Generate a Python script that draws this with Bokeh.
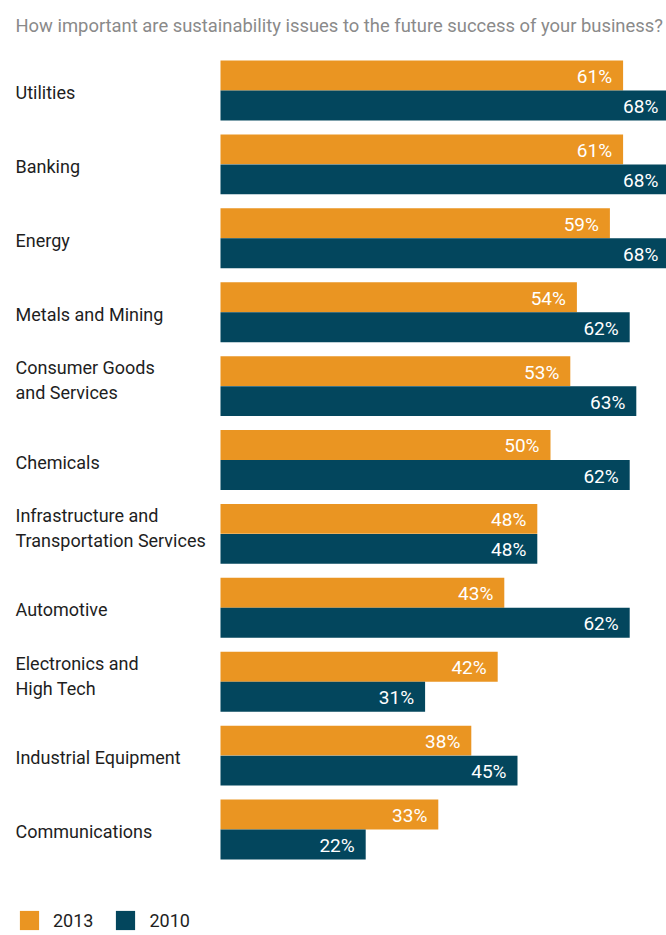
from bokeh.plotting import figure
from bokeh.models import ColumnDataSource, Range1d, Label, Legend, LegendItem
from bokeh.core.properties import value
from bokeh.embed import file_html
from bokeh.resources import INLINE

title_text = "How important are sustainability issues to the future success of your business?"
categories = [
    "Utilities",
    "Banking",
    "Energy",
    "Metals and Mining",
    "Consumer Goods\nand Services",
    "Chemicals",
    "Infrastructure and\nTransportation Services",
    "Automotive",
    "Electronics and\nHigh Tech",
    "Industrial Equipment",
    "Communications",
]
values_2013 = [61, 61, 59, 54, 53, 50, 48, 43, 42, 38, 33]
values_2010 = [68, 68, 68, 62, 63, 62, 48, 62, 31, 45, 22]
series_names = ["2013", "2010"]

ORANGE = "#EA9522"
NAVY = "#03465D"
FONT = value("Roboto")

W, H = 666, 935
PX_PER_PCT = 6.6
ZERO_X = 220
GROUP_PX = 73.9
FIRST_CENTER = 90

n = len(categories)
idx = list(range(n))
off = 0.203
bh = 0.405

src13 = ColumnDataSource(dict(y=[i - off for i in idx], v=values_2013,
                              lab=[f"{v}%" for v in values_2013]))
src10 = ColumnDataSource(dict(y=[i + off for i in idx], v=values_2010,
                              lab=[f"{v}%" for v in values_2010]))
srccat = ColumnDataSource(dict(y=idx, cat=categories,
                               dy=[-6 if "\n" in c else 2 for c in categories]))

x0 = -ZERO_X / PX_PER_PCT
p = figure(width=W, height=H, output_backend="svg", toolbar_location=None,
           x_range=Range1d(x0, (W - ZERO_X) / PX_PER_PCT),
           y_range=Range1d((H - FIRST_CENTER) / GROUP_PX, -FIRST_CENTER / GROUP_PX),
           min_border=0, min_border_left=0, min_border_right=0,
           min_border_top=0, min_border_bottom=0)
p.axis.visible = False
p.grid.visible = False
p.outline_line_color = None
p.background_fill_color = "white"
p.border_fill_color = "white"

r13 = p.hbar(y="y", left=0, right="v", height=bh, source=src13,
             fill_color=ORANGE, line_color=None)
r10 = p.hbar(y="y", left=0, right="v", height=bh, source=src10,
             fill_color=NAVY, line_color=None)

for s in (src13, src10):
    p.text(x="v", y="y", text="lab", source=s, x_offset=-11, y_offset=1,
           text_align="right", text_baseline="middle", text_color="white",
           text_font=FONT, text_font_size="19px")

p.text(x=x0, y="y", text="cat", source=srccat, x_offset=15, y_offset="dy",
       text_align="left", text_baseline="middle", text_color="#1e1e1e",
       text_font=FONT, text_font_size="18px", text_line_height=1.2)

title = Label(x=15, y=H - 25, x_units="screen", y_units="screen",
              text=title_text, text_font="Roboto", text_font_size="18.4px",
              text_color="#8a8a8a", text_baseline="alphabetic")
p.add_layout(title)

legend = Legend(items=[LegendItem(label=series_names[0], renderers=[r13]),
                       LegendItem(label=series_names[1], renderers=[r10])],
                orientation="horizontal", location=(17, 3),
                glyph_width=24, glyph_height=24, label_height=24,
                label_standoff=12, spacing=20, padding=0, margin=0,
                border_line_alpha=0, background_fill_alpha=0,
                label_text_font="Roboto", label_text_font_size="18px",
                label_text_color="#1e1e1e")
p.add_layout(legend)

open("out.html", "w").write(file_html(p, INLINE))
